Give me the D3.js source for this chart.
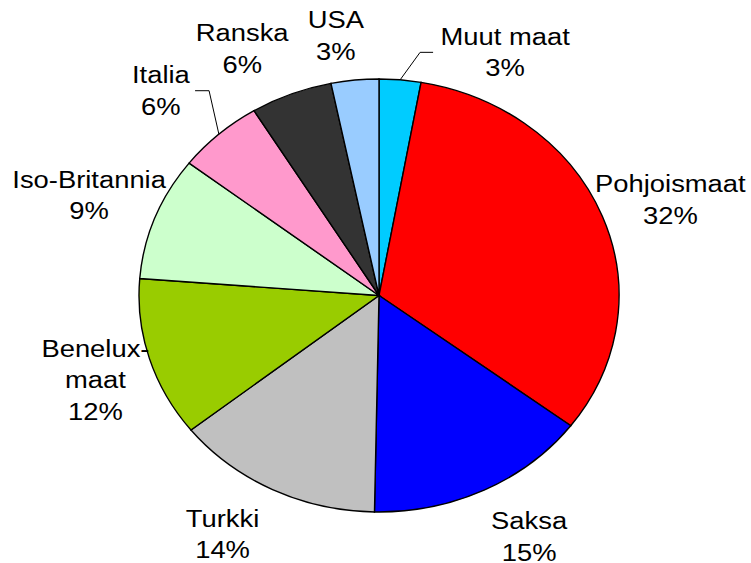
<html>
  <head>
    <meta charset="utf-8" />
    <script src="https://d3js.org/d3.v7.min.js"></script>
    <style>
      body { margin: 0; background: #fff; }
      text { font-family: "Liberation Sans", Arial, sans-serif; fill: #000; }
    </style>
  </head>
  <body>
    <div id="chart"></div>
    <script>
      // slices, clockwise from 12 o'clock
      var countries = ["Muut maat", "Pohjoismaat", "Saksa", "Turkki", "Benelux-\nmaat",
                       "Iso-Britannia", "Italia", "Ranska", "USA"];
      var shares = [2.8, 32.4, 15.0, 14.0, 11.9, 9.2, 5.8, 5.5, 3.2];
      var colors = ["#00ccff", "#ff0000", "#0000ff", "#c0c0c0", "#99cc00",
                    "#ccffcc", "#ff99cc", "#333333", "#99ccff"];

      // label offset from the slice's rim midpoint (centre x, first baseline)
      var labelOffset = [[105, -35], [68, -24], [45, 39], [-50, 37], [-54, -2],
                         [-66, -30], [-58, -51], [-49, -53], [-19, -52]];
      var withLeader = ["Muut maat", "Italia"];

      var width = 751, height = 563;
      var cx = 379, cy = 295.5;
      var ry = 216.5, rx = 240;
      var sx = rx / ry;
      var fontSize = 24.7, lineGap = 31.6;

      var svg = d3.select("#chart").append("svg")
        .attr("width", width).attr("height", height);

      var pie = d3.pie().sort(null).value(function (d) { return d; });
      var arcs = pie(shares);
      var arc = d3.arc().innerRadius(0).outerRadius(ry);

      var g = svg.append("g")
        .attr("transform", "translate(" + cx + "," + cy + ") scale(" + sx + ",1)");

      g.selectAll("path").data(arcs).enter().append("path")
        .attr("d", arc)
        .attr("fill", function (d, i) { return colors[i]; })
        .attr("stroke", "#000")
        .attr("stroke-width", 1.4)
        .attr("vector-effect", "non-scaling-stroke");

      function rim(d) {
        var a = (d.startAngle + d.endAngle) / 2;
        return [cx + rx * Math.sin(a), cy - ry * Math.cos(a)];
      }

      arcs.forEach(function (d, i) {
        var p = rim(d);
        var x = p[0] + labelOffset[i][0];
        var y = p[1] + labelOffset[i][1];
        var lines = countries[i].split("\n");
        lines.push(Math.round(d.value) + "%");

        var t = svg.append("text")
          .attr("transform", "translate(" + x + "," + y + ") scale(" + sx + ",1)")
          .attr("text-anchor", "middle")
          .style("font-size", fontSize + "px");
        lines.forEach(function (s, k) {
          t.append("tspan").attr("x", 0).attr("y", k * lineGap).text(s);
        });

        if (withLeader.indexOf(countries[i]) >= 0) {
          var w = t.node().getBBox().width * sx;
          var ex, elx;
          if (x > p[0]) { ex = x - w / 2 - 7; elx = ex - 13; }
          else { ex = x + w / 2 + 5; elx = ex + 14; }
          var ey = y + 7.5;
          svg.append("polyline")
            .attr("points", [[p[0], p[1]], [elx, ey], [ex, ey]].join(" "))
            .attr("fill", "none")
            .attr("stroke", "#000")
            .attr("stroke-width", 1);
        }
      });
    </script>
  </body>
</html>
